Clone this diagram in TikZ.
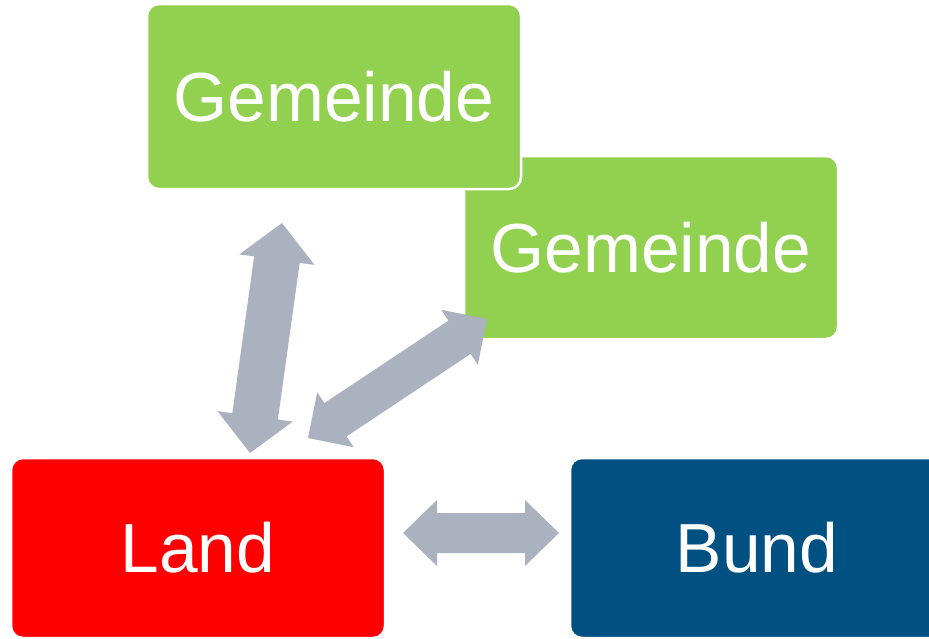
\documentclass[tikz,border=0pt]{standalone}
\usepackage{fontspec}
\setmainfont{Liberation Sans}
\usetikzlibrary{calc}
\definecolor{gemgreen}{HTML}{92D050}
\definecolor{landred}{HTML}{FF0000}
\definecolor{bundblue}{HTML}{005082}
\definecolor{arrowgray}{HTML}{AAB2C0}
\newcommand\dblarrow[5]{%
  \coordinate (#1b) at ($(#1)!#5!(#2)$);
  \coordinate (#2b) at ($(#2)!#5!(#1)$);
  \fill[arrowgray] (#1) -- ($(#1b)!#4!90:(#2)$) -- ($(#1b)!#3!90:(#2)$)
    -- ($(#2b)!#3!-90:(#1)$) -- ($(#2b)!#4!-90:(#1)$) -- (#2)
    -- ($(#2b)!#4!90:(#1)$) -- ($(#2b)!#3!90:(#1)$)
    -- ($(#1b)!#3!-90:(#2)$) -- ($(#1b)!#4!-90:(#2)$) -- cycle;}
\begin{document}
\begin{tikzpicture}[x=1pt,y=-1pt,
  box/.style={rounded corners=12pt, draw=white, line width=2.5pt,
    minimum width=374pt, text=white,
    font=\fontsize{69.5}{80}\selectfont, inner sep=0pt}]
\useasboundingbox (0,0) rectangle (929,638);
\begin{scope}
\clip (0,0) rectangle (929,638);
\node[box, fill=gemgreen, minimum height=183pt] (gem2) at (651,247.5) {Gemeinde};
\node[box, fill=gemgreen, minimum height=185pt] (gem1) at (334,96.5) {Gemeinde};
\node[box, fill=landred, minimum height=180pt] (land) at (198,548) {Land};
\node[box, fill=bundblue, minimum height=180pt] (bund) at (757,548) {Bund};
\end{scope}
\coordinate (a1s) at (250,453);
\coordinate (a1e) at (282,223);
\coordinate (a2s) at (308,438);
\coordinate (a2e) at (487,319);
\coordinate (a3s) at (403,533);
\coordinate (a3e) at (559,533);
\dblarrow{a1s}{a1e}{23pt}{38pt}{37pt}
\dblarrow{a2s}{a2e}{20pt}{33pt}{33pt}
\dblarrow{a3s}{a3e}{20pt}{33pt}{34pt}
\end{tikzpicture}
\end{document}
